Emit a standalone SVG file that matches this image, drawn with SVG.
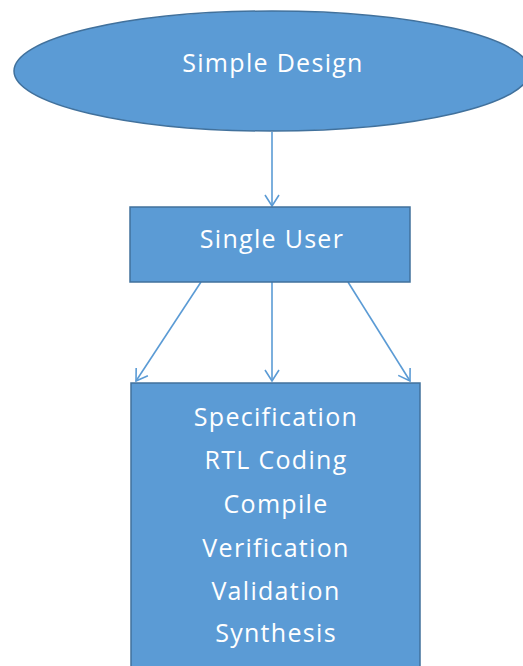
<svg xmlns="http://www.w3.org/2000/svg" width="523" height="666" viewBox="0 0 523 666">
  <style>
    .shape { fill: #5B9BD5; stroke: #41719C; stroke-width: 1.5; }
    .label { fill: #FFFFFF; font-family: "Open Sans", "Noto Sans", sans-serif; font-size: 25px; letter-spacing: 1.3px; text-anchor: middle; }
    .edge { stroke: #5B9BD5; stroke-width: 1.6; fill: none; marker-end: url(#arrow); }
  </style>
  <defs>
    <marker id="arrow" markerWidth="18" markerHeight="18" refX="12" refY="8" orient="auto" markerUnits="userSpaceOnUse">
      <path d="M1,1 L12,8 L1,15" fill="none" stroke="#5B9BD5" stroke-width="1.6"/>
    </marker>
  </defs>

  <g id="connectors">
    <line class="edge" x1="272" y1="132" x2="272" y2="206"/>
    <line class="edge" x1="201" y1="282" x2="136" y2="381"/>
    <line class="edge" x1="272" y1="282" x2="272" y2="381"/>
    <line class="edge" x1="348" y1="282" x2="410" y2="381"/>
  </g>

  <g id="simple-design">
    <ellipse class="shape" cx="272" cy="71" rx="258" ry="60"/>
    <text class="label" x="273" y="72">Simple Design</text>
  </g>

  <g id="single-user">
    <rect class="shape" x="130" y="207" width="280" height="75"/>
    <text class="label" x="272" y="248">Single User</text>
  </g>

  <g id="flow-steps">
    <rect class="shape" x="131" y="383" width="289" height="300"/>
    <text class="label" x="276" y="426">Specification</text>
    <text class="label" x="276" y="469">RTL Coding</text>
    <text class="label" x="276" y="513">Compile</text>
    <text class="label" x="276" y="557">Verification</text>
    <text class="label" x="276" y="600">Validation</text>
    <text class="label" x="276" y="642">Synthesis</text>
  </g>
</svg>
